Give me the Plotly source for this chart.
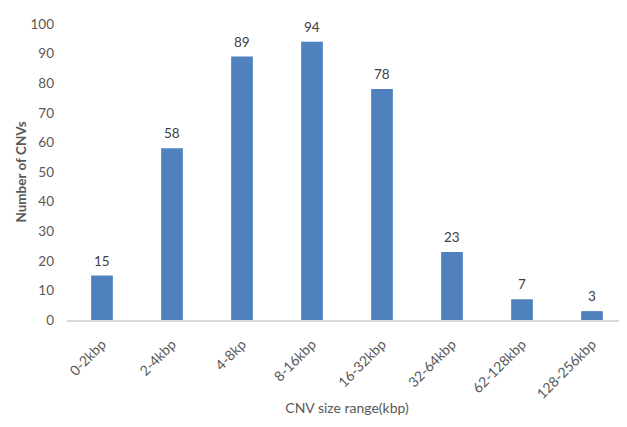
import plotly.graph_objects as go

categories = ["0-2kbp", "2-4kbp", "4-8kp", "8-16kbp", "16-32kbp", "32-64kbp", "62-128kbp", "128-256kbp"]
counts = [15, 58, 89, 94, 78, 23, 7, 3]
y_ticks = [0, 10, 20, 30, 40, 50, 60, 70, 80, 90, 100]

FONT = "Lato"
GREY = "#595959"

fig = go.Figure(go.Bar(
    x=categories, y=counts,
    marker=dict(color="#4F81BD", line=dict(width=0)),
    cliponaxis=False, width=0.31,
))

for c, v in zip(categories, counts):
    fig.add_annotation(x=c, y=v, text=str(v), showarrow=False,
                       yanchor="bottom", yshift=5,
                       font=dict(family=FONT, size=13.5, color="#404040"))

fig.update_layout(
    width=627, height=427,
    margin=dict(l=59, r=8, t=12, b=115),
    paper_bgcolor="white", plot_bgcolor="white",
    showlegend=False,
    font=dict(family=FONT, color=GREY),
)
fig.update_xaxes(
    tickangle=-45, tickfont=dict(family=FONT, size=14, color=GREY),
    showline=True, linecolor="#D9D9D9", linewidth=1.5,
    showgrid=False, ticks="", ticklabelstandoff=9,
    title=dict(text="CNV size range(kbp)", font=dict(family=FONT, size=14, color=GREY), standoff=2),
)
fig.update_yaxes(
    range=[0, 100], tickvals=y_ticks,
    tickfont=dict(family=FONT, size=13.5, color=GREY),
    showgrid=False, zeroline=False, showline=False, ticks="",
    ticklabelstandoff=12,
    title=dict(text="<b>Number of CNVs</b>", font=dict(family=FONT, size=13.5, color=GREY), standoff=0),
)

fig.write_html("out.html")
